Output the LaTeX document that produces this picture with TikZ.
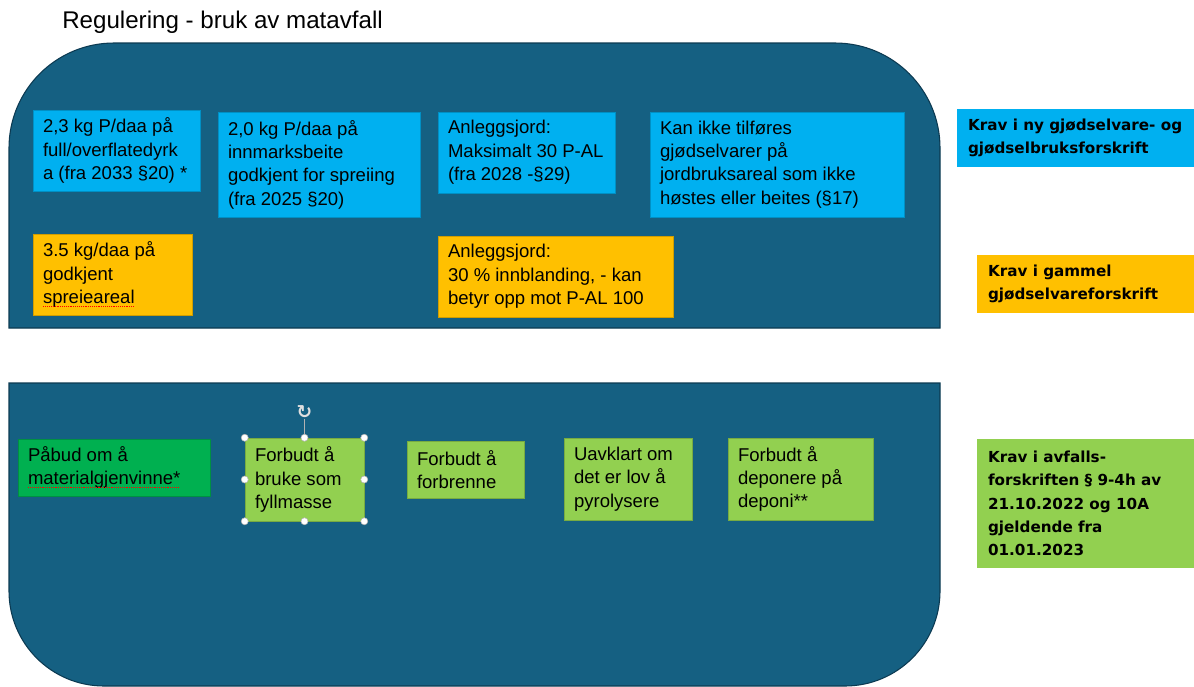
\documentclass[tikz,border=0pt]{standalone}
\usepackage{fontspec}
\setmainfont{Liberation Sans}
\newfontfamily\legfont{DejaVu Sans}
\newfontfamily\symfont{DejaVu Sans}
\definecolor{panel}{HTML}{156082}
\definecolor{panelline}{HTML}{0C3A52}
\definecolor{cblue}{HTML}{00B0F0}
\definecolor{corange}{HTML}{FFC000}
\definecolor{clgreen}{HTML}{92D050}
\definecolor{cdgreen}{HTML}{00B050}
\newsavebox\rwbox
\newcommand\redwave[1]{\setbox\rwbox\hbox{#1}\hbox{\rlap{\usebox\rwbox}{\color{red}\lower2.4pt\hbox to \wd\rwbox{\leaders\hbox to 1.4pt{\hss\vrule width 0.7pt height 0.55pt depth 0pt\hss}\hfill}}}}
\newcommand\mkbox[9]{% name, style, colour, left, top, right, bottom, inset, text
  \pgfmathsetmacro\bw{(#6-#4)*0.75}%
  \pgfmathsetmacro\bh{(#7-#5)*0.75}%
  \pgfmathsetmacro\ins{#8*0.75}%
  \node[#2=#3, minimum width=\bw pt, minimum height=\bh pt] (#1) at ({(#4+#6)/2},{(#5+#7)/2}) {};
  \node[#2txt, anchor=west] (#1t) at ([xshift=\ins pt]#1.west) {#9};}
\begin{document}
\begin{tikzpicture}[x=0.75pt,y=-0.75pt,
  bx/.style={draw=#1!82!black, fill=#1, line width=0.4pt, inner sep=0pt},
  bxtxt/.style={inner sep=0pt, align=left, font=\fontsize{13.9pt}{17.5pt}\selectfont, text=black},
  leg/.style={draw=none, fill=#1, inner sep=0pt},
  legtxt/.style={inner sep=0pt, align=left, font=\legfont\bfseries\fontsize{11.4pt}{17.4pt}\selectfont, text=black},
  panelbox/.style={fill=panel, draw=panelline, line width=0.8pt},
  handle/.style={circle, fill=white, draw=gray!60, line width=0.4pt, minimum size=5.3pt, inner sep=0pt}]
\useasboundingbox (0,0) rectangle (1194,686);

% title
\node[anchor=base west, inner sep=0pt, font=\fontsize{18.1pt}{20pt}\selectfont] (title) at (62,28) {Regulering - bruk av matavfall};

% top panel
\path[panelbox] (9,328) -- (9,148) .. controls (9,90) and (56,43) .. (114,43)
  -- (835,43) .. controls (893,43) and (940,90) .. (940,148) -- (940,328) -- cycle;
% bottom panel
\path[panelbox] (9,383) -- (940,383) -- (940,591) .. controls (940,643.5) and (897.5,686) .. (845,686)
  -- (104,686) .. controls (51.5,686) and (9,643.5) .. (9,591) -- cycle;

% top row (blue)
\mkbox{b1}{bx}{cblue}{33}{110}{200}{191}{10}{2,3 kg P/daa på\\full/overflatedyrk\\a (fra 2033 §20) *}
\mkbox{b2}{bx}{cblue}{218}{112}{420}{217}{10}{2,0 kg P/daa på\\innmarksbeite\\godkjent for spreiing\\(fra 2025 §20)}
\mkbox{b3}{bx}{cblue}{438}{112}{615}{193}{10}{Anleggsjord:\\Maksimalt 30 P-AL\\(fra 2028 -§29)}
\mkbox{b4}{bx}{cblue}{650}{112}{904}{217}{10}{Kan ikke tilføres\\gjødselvarer på\\jordbruksareal som ikke\\høstes eller beites (§17)}
% orange
\mkbox{b5}{bx}{corange}{33}{234}{192}{315}{10}{3.5 kg/daa på\\godkjent\\\redwave{spreieareal}}
\mkbox{b6}{bx}{corange}{438}{236}{673}{317}{10}{Anleggsjord:\\30 \% innblanding, - kan\\betyr opp mot P-AL 100}

% bottom row
\mkbox{b7}{bx}{cdgreen}{18}{439}{210}{496}{10}{Påbud om å\\\redwave{materialgjenvinne*}}
\mkbox{b8}{bx}{clgreen}{245}{438}{364}{521}{10}{Forbudt å\\bruke som\\fyllmasse}
\mkbox{b9}{bx}{clgreen}{407}{441}{524}{498}{10}{Forbudt å\\forbrenne}
\mkbox{b10}{bx}{clgreen}{564}{438}{692}{520}{10}{Uavklart om\\det er lov å\\pyrolysere}
\mkbox{b11}{bx}{clgreen}{728}{438}{873}{520}{10}{Forbudt å\\deponere på\\deponi**}

% legend
\mkbox{l1}{leg}{cblue}{957}{109}{1196}{167}{11}{Krav i ny gjødselvare- og\\gjødselbruksforskrift}
\mkbox{l2}{leg}{corange}{977}{255}{1196}{313}{11}{Krav i gammel\\gjødselvareforskrift}
\mkbox{l3}{leg}{clgreen}{977}{439}{1196}{568}{11}{Krav i avfalls-\\forskriften § 9-4h av\\21.10.2022 og 10A\\gjeldende fra\\01.01.2023}

% selection handles on b8
\node[text=gray!25, inner sep=0pt, font=\symfont\bfseries\fontsize{14pt}{14pt}\selectfont] (rot) at (304.5,412) {↻};
\node[handle] (hn) at (b8.north) {};
\draw[gray!60, line width=0.5pt] (rot.south) -- (hn.north);
\node[handle] (hnw) at (b8.north west) {};
\node[handle] (hne) at (b8.north east) {};
\node[handle] (hw) at (b8.west) {};
\node[handle] (he) at (b8.east) {};
\node[handle] (hsw) at (b8.south west) {};
\node[handle] (hs) at (b8.south) {};
\node[handle] (hse) at (b8.south east) {};
\end{tikzpicture}
\end{document}
